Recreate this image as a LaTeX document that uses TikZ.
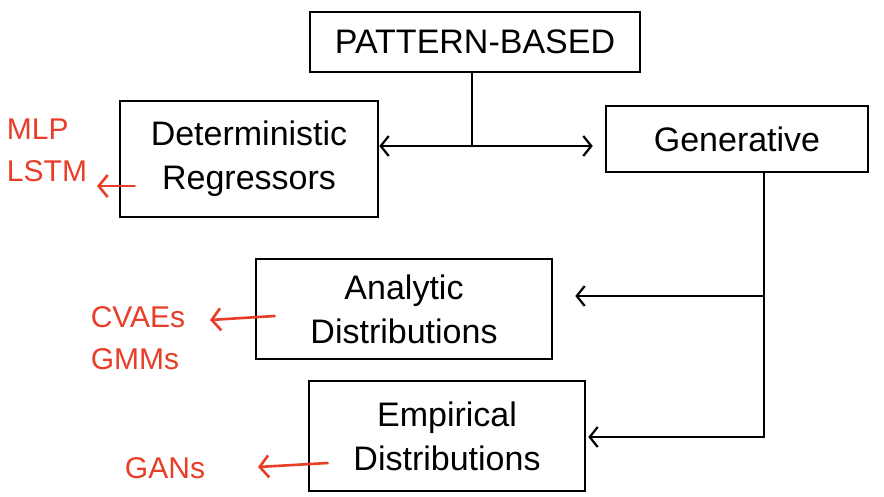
\documentclass[tikz,border=0pt]{standalone}
\usepackage{fontspec}
\setmainfont{Liberation Sans}
\usetikzlibrary{arrows.meta}
\definecolor{sketchred}{RGB}{232,62,40}
\tikzset{
  box/.style={draw, line width=2.6pt, align=center, inner sep=4pt,
    font=\fontsize{34}{44}\selectfont},
  link/.style={line width=2.2pt, line cap=round},
  tip/.style={-{Straight Barb[length=8pt,width=20pt,line width=2.2pt]}},
  bitip/.style={{Straight Barb[length=8pt,width=20pt,line width=2.2pt]}-{Straight Barb[length=8pt,width=20pt,line width=2.2pt]}},
  redlink/.style={link, line width=2.6pt, draw=sketchred, -{Straight Barb[length=9pt,width=22pt,line width=2.6pt]}},
  redlabel/.style={text=sketchred, align=left, font=\fontsize{30}{42}\selectfont}
}
\begin{document}
\begin{tikzpicture}[x=1pt,y=-1pt]
\useasboundingbox[fill=white] (0,0) rectangle (884,496);

\node[box, minimum width=330, minimum height=60] (pb) at (475,42) {PATTERN-BASED};
\node[box, minimum width=258, minimum height=116] (det) at (249,159) {Deterministic\\Regressors};
\node[box, minimum width=262, minimum height=66] (gen) at (737,139) {Generative};
\node[box, minimum width=296, minimum height=100] (ana) at (404,309) {Analytic\\Distributions};
\node[box, minimum width=276, minimum height=110] (emp) at (447,436) {Empirical\\Distributions};

\node[redlabel] (l1) at (47,150) {MLP\\LSTM};
\node[redlabel] (l2) at (138,338) {CVAEs\\GMMs};
\node[redlabel] (l3) at (165,468) {GANs};

% top split
\coordinate (j1) at (472,146);
\draw[link] (pb.south -| j1) -- (j1);
\draw[link, bitip] (det.east |- j1) -- ([xshift=-12]gen.west |- j1);

% generative branch
\coordinate (v0) at (764,172);
\coordinate (v1) at (764,296);
\coordinate (v2) at (764,437);
\draw[link] (v0) -- (v2);
\draw[link, tip] (v1) -- ([xshift=22]ana.east |- v1);
\draw[link, tip] (v2) -- ([xshift=2]emp.east |- v2);

% red arrows
\coordinate (r1) at (97,186);
\coordinate (r2) at (210,320);
\coordinate (r3) at (258,467);
\draw[redlink] ([xshift=16]det.west |- r1) -- (r1);
\draw[redlink] ([xshift=20]ana.west |- 0,316) -- (r2);
\draw[redlink] ([xshift=20]emp.west |- 0,463) -- (r3);
\end{tikzpicture}
\end{document}
